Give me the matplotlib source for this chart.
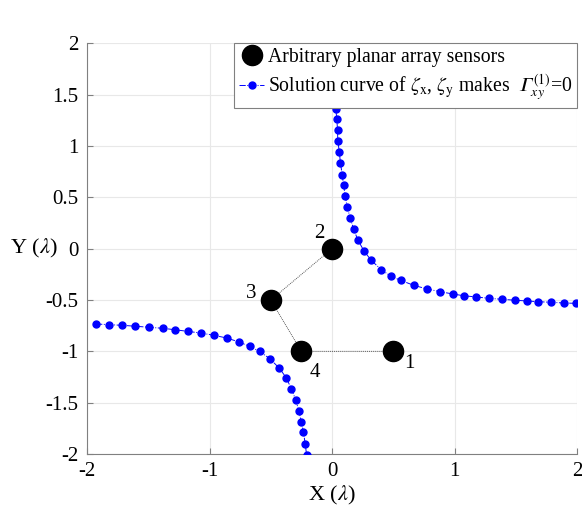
import numpy as np
import matplotlib
matplotlib.use('Agg')
import matplotlib.pyplot as plt

plt.rcParams['font.family'] = ['Liberation Serif', 'DejaVu Serif']
plt.rcParams['mathtext.fontset'] = 'stix'

# Sensor positions (in wavelengths)
sensor_x = [0.5, 0.0, -0.5, -0.25]
sensor_y = [-1.0, 0.0, -0.5, -1.0]
sensor_ids = ['1', '2', '3', '4']

# Solution curve, upper-right branch
upper_x = [0.020, 0.023, 0.025, 0.026, 0.029, 0.030, 0.031, 0.039, 0.045, 0.047,
           0.059, 0.069, 0.083, 0.094, 0.108, 0.124, 0.149, 0.176, 0.211, 0.261,
           0.320, 0.402, 0.478, 0.560, 0.666, 0.772, 0.884, 0.987, 1.074, 1.178,
           1.281, 1.391, 1.497, 1.591, 1.681, 1.791, 1.894, 1.995]
upper_y = [2.025, 1.918, 1.810, 1.703, 1.586, 1.479, 1.362, 1.262, 1.157, 1.053,
           0.946, 0.833, 0.722, 0.618, 0.514, 0.404, 0.297, 0.192, 0.085, -0.022,
           -0.113, -0.204, -0.266, -0.308, -0.356, -0.391, -0.419, -0.441, -0.458, -0.470,
           -0.483, -0.493, -0.502, -0.509, -0.516, -0.522, -0.529, -0.532]

# Solution curve, lower-left branch
lower_x = [-1.926, -1.818, -1.714, -1.605, -1.497, -1.382, -1.283, -1.178, -1.072, -0.966,
           -0.858, -0.758, -0.672, -0.590, -0.509, -0.429, -0.374, -0.331, -0.296, -0.272,
           -0.251, -0.233, -0.219, -0.208]
lower_y = [-0.733, -0.740, -0.746, -0.755, -0.765, -0.775, -0.789, -0.805, -0.821, -0.843,
           -0.870, -0.909, -0.952, -1.001, -1.070, -1.165, -1.257, -1.367, -1.474, -1.577,
           -1.684, -1.789, -1.900, -2.005]

fig = plt.figure(figsize=(5.82, 5.11), dpi=100)
ax = fig.add_axes([0.1495, 0.1115, 0.842, 0.8035])

# connect sensors 1-4-3-2
order = [0, 3, 2, 1]
ax.plot([sensor_x[i] for i in order], [sensor_y[i] for i in order],
        ls=(0, (1, 1)), color='0.35', lw=0.7, zorder=2)

h_sens, = ax.plot(sensor_x, sensor_y, 'o', color='k', ms=14.5, ls='none', zorder=4,
                  label='Arbitrary planar array sensors')
# italic capital gamma (U+1D6E4) so it is not forced upright by mathtext
h_curve, = ax.plot(upper_x, upper_y, color='b', ls='-.', lw=0.7, marker='o', ms=5,
                   zorder=3,
                   label='Solution curve of $\\zeta_{\\mathrm{x}}$, $\\zeta_{\\mathrm{y}}$ makes  '
                         '$\U0001D6E4_{xy}^{(1)}$=0')
ax.plot(lower_x, lower_y, color='b', ls='-.', lw=0.7, marker='o', ms=5, zorder=3)

# sensor numbering
label_off = {'1': (0.13, -0.12), '2': (-0.1, 0.15), '3': (-0.16, 0.06), '4': (0.11, -0.21)}
for sx, sy, sid in zip(sensor_x, sensor_y, sensor_ids):
    dx, dy = label_off[sid]
    ax.text(sx + dx, sy + dy, sid, fontsize=15, ha='center', va='center')

ax.set_xlim(-2, 2)
ax.set_ylim(-2, 2)
ax.set_xticks([-2, -1, 0, 1, 2])
ax.set_yticks(np.arange(-2, 2.01, 0.5))
ax.set_xticklabels(['-2', '-1', '0', '1', '2'])
ax.set_yticklabels(['-2', '-1.5', '-1', '-0.5', '0', '0.5', '1', '1.5', '2'])
ax.tick_params(direction='in', length=4, color='0.5', labelsize=15, pad=6)
ax.grid(True, color='0.91', lw=0.8)
ax.set_axisbelow(True)
for side in ['top', 'right']:
    ax.spines[side].set_visible(False)
for side in ['left', 'bottom']:
    ax.spines[side].set_color('0.5')
    ax.spines[side].set_linewidth(0.8)

ax.set_xlabel(r'X ($\lambda$)', fontsize=16, labelpad=2)
ax.set_ylabel(r'Y ($\lambda$)', fontsize=16, rotation=0, ha='right', va='center')
ax.yaxis.set_label_coords(-0.06, 0.5)

leg = ax.legend(handles=[h_sens, h_curve], loc='upper right', borderaxespad=0,
                fontsize=14.2, fancybox=False, edgecolor='0.5', framealpha=1,
                numpoints=1, handlelength=1.25, handletextpad=0.2,
                borderpad=0.25, labelspacing=0.25)
leg.get_frame().set_linewidth(0.8)

fig.savefig('out.png', dpi=100)
